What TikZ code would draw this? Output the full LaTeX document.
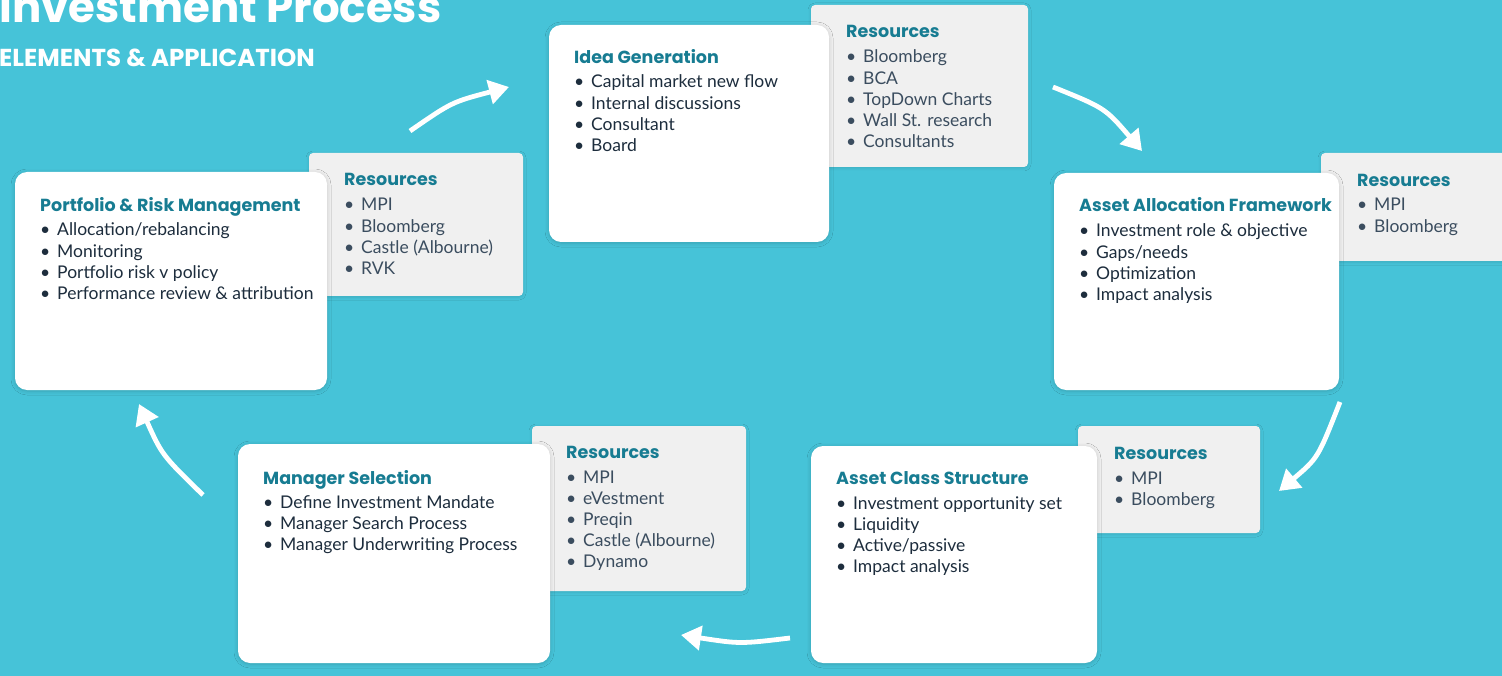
\documentclass[tikz,border=0pt]{standalone}
\usepackage{fontspec}
\usetikzlibrary{arrows.meta,shadows.blur}
\newfontfamily\latofont{Lato}
\newfontfamily\headfont{Poppins}
\definecolor{bgblue}{HTML}{46C3D8}
\definecolor{headteal}{HTML}{177C92}
\definecolor{itemdark}{HTML}{1D2D3D}
\definecolor{itemslate}{HTML}{3B4D5F}
\definecolor{resgrey}{HTML}{F0F0F0}
\tikzset{
  card/.style={fill=white, rounded corners=12pt, inner sep=0pt, outer sep=0pt, anchor=north west,
    blur shadow={shadow xshift=0pt, shadow yshift=-1pt, shadow blur radius=4pt, shadow opacity=18}},
  resbox/.style={fill=resgrey, rounded corners=4pt, inner sep=0pt, outer sep=0pt, anchor=north west,
    blur shadow={shadow xshift=0pt, shadow yshift=-1pt, shadow blur radius=3pt, shadow opacity=12}},
  hd/.style={anchor=base west, inner sep=0pt, text=headteal, font=\headfont\bfseries\fontsize{17.5}{21}\selectfont},
  itd/.style={anchor=base west, inner sep=0pt, text=itemdark, font=\latofont\fontsize{17.5}{21}\selectfont},
  its/.style={anchor=base west, inner sep=0pt, text=itemslate, font=\latofont\fontsize{17.5}{21}\selectfont},
  arr/.style={draw=white, line width=4.8pt, -{Triangle[length=20pt,width=24pt]}},
}
% #1 prefix, #2 style, #3 x text, #4 first baseline, #5 list
\newcommand\itemlist[5]{%
  \foreach \t [count=\i from 0] in {#5} {
    \node[#2] (#1b\i) at (#3-17, #4+21.2*\i) {•};
    \node[#2] (#1t\i) at (#3, #4+21.2*\i) {\t};
  }%
}
\begin{document}
\begin{tikzpicture}[x=1pt, y=-1pt]
\useasboundingbox (0,0) rectangle (1502,676);
\fill[bgblue] (0,0) rectangle (1502,676);

% title
\node[anchor=base west, inner sep=0pt, text=white, font=\headfont\bfseries\fontsize{43.5}{50}\selectfont] (title) at (-1,23) {Investment Process};
\node[anchor=base west, inner sep=0pt, text=white, font=\headfont\bfseries\fontsize{24.5}{29}\selectfont] (subtitle) at (-1,67) {ELEMENTS \& APPLICATION};

% resource boxes (behind)
\node[resbox, minimum width=217pt, minimum height=162pt] (resIdea) at (811,5) {};
\node[resbox, minimum width=190pt, minimum height=108pt] (resAA) at (1321,153) {};
\node[resbox, minimum width=182pt, minimum height=107pt] (resAC) at (1078,426) {};
\node[resbox, minimum width=214pt, minimum height=165pt] (resMS) at (532,426) {};
\node[resbox, minimum width=214pt, minimum height=143pt] (resP) at (309,153) {};

% cards
\node[card, minimum width=280pt, minimum height=217pt] (idea) at (549,25) {};
\node[card, minimum width=285pt, minimum height=217pt] (aa) at (1054,173) {};
\node[card, minimum width=286pt, minimum height=217pt] (ac) at (811,446) {};
\node[card, minimum width=312pt, minimum height=219pt] (ms) at (238,444) {};
\node[card, minimum width=312pt, minimum height=218pt] (port) at (15,172) {};

% Idea Generation
\node[hd] (ideaH) at (574,63.5) {Idea Generation};
\itemlist{idea}{itd}{591}{88}{Capital market new flow, Internal discussions, Consultant, Board}
\node[hd] (resIdeaH) at (846,37.5) {Resources};
\itemlist{ri}{its}{863}{63}{Bloomberg, BCA, TopDown Charts, Wall St. research, Consultants}

% Asset Allocation
\node[hd] (aaH) at (1079,211.5) {Asset Allocation Framework};
\itemlist{aa}{itd}{1096}{237}{Investment role \& objective, Gaps/needs, Optimization, Impact analysis}
\node[hd] (resAAH) at (1357,186.5) {Resources};
\itemlist{raa}{its}{1374}{211}{MPI, Bloomberg}

% Asset Class Structure
\node[hd] (acH) at (836,484.5) {Asset Class Structure};
\itemlist{ac}{itd}{853}{509}{Investment opportunity set, Liquidity, Active/passive, Impact analysis}
\node[hd] (resACH) at (1114,459.5) {Resources};
\itemlist{rac}{its}{1131}{484}{MPI, Bloomberg}

% Manager Selection
\node[hd] (msH) at (263,484.5) {Manager Selection};
\itemlist{ms}{itd}{280}{508}{Define Investment Mandate, Manager Search Process, Manager Underwriting Process}
\node[hd] (resMSH) at (566,458.5) {Resources};
\itemlist{rms}{its}{583}{483}{MPI, eVestment, Preqin, {Castle (Albourne)}, Dynamo}

% Portfolio & Risk
\node[hd] (portH) at (40,211.5) {Portfolio \& Risk Management};
\itemlist{pt}{itd}{57}{236}{Allocation/rebalancing, Monitoring, Portfolio risk v policy, Performance review \& attribution}
\node[hd] (resPH) at (344,185.5) {Resources};
\itemlist{rp}{its}{361}{211}{MPI, Bloomberg, {Castle (Albourne)}, RVK}

% arrows
\coordinate (a1s) at (410,131); \coordinate (a1e) at (509,87);
\coordinate (a2s) at (1053,87); \coordinate (a2e) at (1142,151);
\coordinate (a3s) at (1340,402); \coordinate (a3e) at (1279,491);
\coordinate (a4s) at (790,638); \coordinate (a4e) at (681,635);
\coordinate (a5s) at (203,495); \coordinate (a5e) at (139,404);
\draw[arr] (a1s) .. controls (452,102) .. (a1e);
\draw[arr] (a2s) .. controls (1105,108) .. (a2e);
\draw[arr] (a3s) .. controls (1318,458) .. (a3e);
\draw[arr] (a4s) .. controls (740,644) .. (a4e);
\draw[arr] (a5s) .. controls (162,455) .. (a5e);
\end{tikzpicture}
\end{document}
